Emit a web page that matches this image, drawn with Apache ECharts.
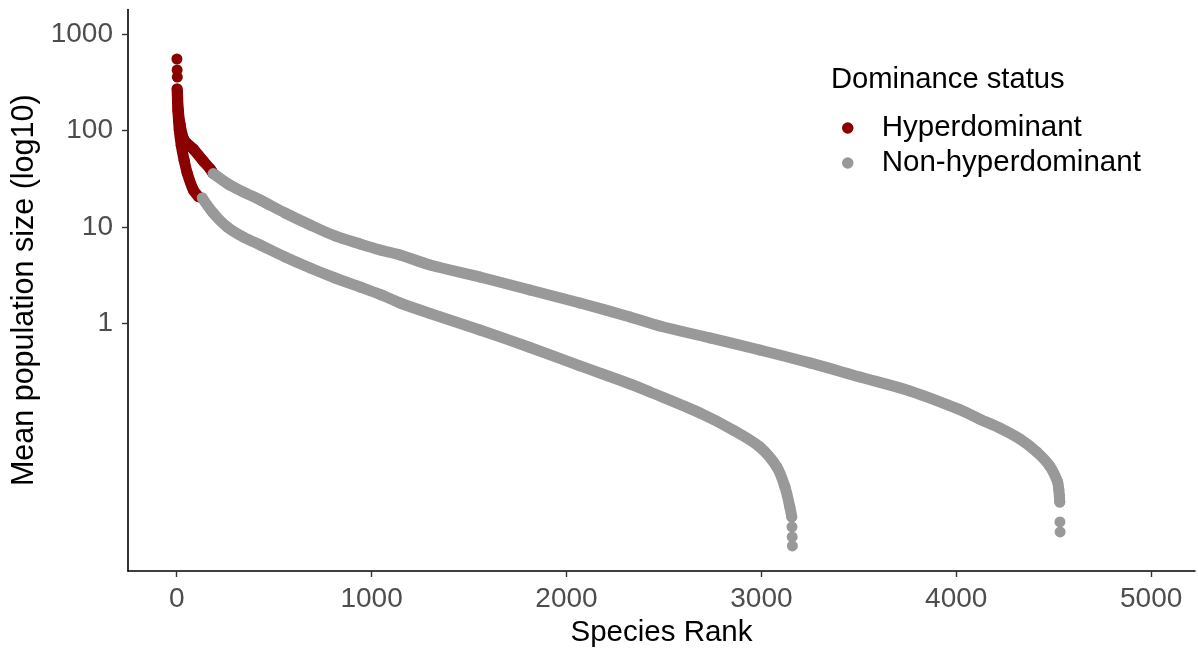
<!DOCTYPE html>
<html>
<head>
<meta charset="utf-8">
<script src="https://cdn.jsdelivr.net/npm/echarts@6/dist/echarts.min.js"></script>
<style>
html,body{margin:0;padding:0;background:#fff;}
#chart{width:1198px;height:651px;}
</style>
</head>
<body>
<div id="chart"></div>
<script>
// ---- data ----
// Curve A (longer rank-abundance curve)
const hypA_rank = [4, 8, 18, 38, 85, 136, 172, 182];
const hypA_value = [250, 163, 114, 79.8, 64.3, 48.3, 39.9, 37.1];
const hypTop_rank = [1, 2, 3];
const hypTop_value = [551, 424, 358];
const nonA_rank = [187, 264, 341, 428, 556, 685, 813, 941, 1044, 1146, 1300, 1556, 1813, 2069, 2326, 2479, 2736, 2992, 3249, 3505, 3762, 4018, 4121, 4223, 4326, 4413, 4479, 4520, 4526, 4529, 4531];
const nonA_value = [35.8, 27.9, 23.1, 19.05, 13.97, 10.49, 8.07, 6.67, 5.78, 5.13, 4.04, 3.03, 2.22, 1.63, 1.168, 0.942, 0.708, 0.531, 0.390, 0.279, 0.200, 0.128, 0.102, 0.0826, 0.0636, 0.0466, 0.0334, 0.0228, 0.0190, 0.0163, 0.0141];
const nonA_tail_rank = [4532, 4533];
const nonA_tail_value = [0.00877, 0.00691];
// Curve B (shorter rank-abundance curve)
const hypB_rank = [2, 6, 13, 23, 38, 54, 85, 112];
const hypB_value = [270, 160, 101, 70.5, 49.3, 36.1, 24.2, 20.6];
const nonB_rank = [131, 187, 259, 341, 428, 556, 685, 813, 941, 1044, 1146, 1300, 1556, 1813, 2069, 2326, 2428, 2685, 2854, 2992, 3079, 3121, 3146, 3156];
const nonB_value = [19.97, 13.97, 10.0, 7.88, 6.51, 4.89, 3.76, 2.96, 2.39, 2.00, 1.63, 1.27, 0.856, 0.564, 0.363, 0.236, 0.195, 0.118, 0.0788, 0.0525, 0.0326, 0.0202, 0.01254, 0.00988];
const nonB_tail_rank = [3157, 3158, 3159];
const nonB_tail_value = [0.00778, 0.00613, 0.00495];

const xTicks = [0, 1000, 2000, 3000, 4000, 5000];
const yTicks = [1, 10, 100, 1000];
const statusNames = ['Hyperdominant', 'Non-hyperdominant'];

// ---- styles ----
const RED = '#8B0000';
const GREY = '#999999';
const FONT = 'Liberation Sans, Arial, Helvetica, sans-serif';
const PT = 11;

function pairs(xs, ys) { return xs.map((x, i) => [x, ys[i]]); }

function lineSeries(name, color, xs, ys) {
  return {
    type: 'line', name: name, data: pairs(xs, ys),
    symbol: 'circle', symbolSize: PT, showSymbol: true, showAllSymbol: true,
    smooth: 0.3,
    itemStyle: { color: color },
    lineStyle: { color: color, width: PT, cap: 'round', join: 'round' },
    silent: true, animation: false, emphasis: { disabled: true }
  };
}
function pointSeries(name, color, xs, ys) {
  return {
    type: 'scatter', name: name, data: pairs(xs, ys),
    symbol: 'circle', symbolSize: PT,
    itemStyle: { color: color, opacity: 1 },
    silent: true, animation: false, emphasis: { disabled: true }
  };
}
function plainNumber(v) { return String(Math.round(v)); }

const chart = echarts.init(document.getElementById('chart'), null, { renderer: 'canvas' });
chart.setOption({
  backgroundColor: '#ffffff',
  animation: false,
  textStyle: { fontFamily: FONT },
  title: {
    text: 'Dominance status',
    left: 826, top: 60,
    textStyle: { fontFamily: FONT, fontSize: 29.2, fontWeight: 'normal', color: '#000' }
  },
  legend: {
    data: statusNames,
    orient: 'vertical',
    left: 837, top: 107,
    icon: 'circle',
    itemWidth: 58, itemHeight: 11.5,
    itemGap: 3,
    selectedMode: false,
    textStyle: { fontFamily: FONT, fontSize: 29.5, color: '#000', lineHeight: 32 }
  },
  grid: { left: 128, right: 3, top: 9.5, bottom: 80, containLabel: false, outerBoundsMode: 'none' },
  xAxis: {
    type: 'value', min: -250, max: 5225,
    name: 'Species Rank', nameLocation: 'middle', nameGap: 42,
    nameTextStyle: { fontFamily: FONT, fontSize: 29.5, color: '#000' },
    axisLine: { show: true, onZero: false, lineStyle: { color: '#000', width: 1.6 } },
    axisTick: { show: true, length: 6, lineStyle: { color: '#333', width: 1.4 }, customValues: xTicks },
    axisLabel: { show: true, color: '#4D4D4D', fontSize: 28, fontFamily: FONT, margin: 14, customValues: xTicks, formatter: plainNumber },
    splitLine: { show: false }
  },
  yAxis: {
    type: 'log', logBase: 10, min: 0.00272, max: 1795,
    name: 'Mean population size (log10)', nameLocation: 'middle', nameGap: 66, nameRotate: 90,
    nameTextStyle: { fontFamily: FONT, fontSize: 30.5, color: '#000' },
    axisLine: { show: true, onZero: false, lineStyle: { color: '#000', width: 1.6 } },
    axisTick: { show: true, length: 6, lineStyle: { color: '#333', width: 1.4 }, customValues: yTicks },
    axisLabel: { show: true, color: '#4D4D4D', fontSize: 28, fontFamily: FONT, margin: 15, customValues: yTicks, formatter: plainNumber },
    splitLine: { show: false }
  },
  series: [
    lineSeries('Hyperdominant', RED, hypA_rank, hypA_value),
    lineSeries('Hyperdominant', RED, hypB_rank, hypB_value),
    pointSeries('Hyperdominant', RED, hypTop_rank, hypTop_value),
    lineSeries('Non-hyperdominant', GREY, nonA_rank, nonA_value),
    lineSeries('Non-hyperdominant', GREY, nonB_rank, nonB_value),
    pointSeries('Non-hyperdominant', GREY, nonA_tail_rank, nonA_tail_value),
    pointSeries('Non-hyperdominant', GREY, nonB_tail_rank, nonB_tail_value)
  ]
});
</script>
</body>
</html>
